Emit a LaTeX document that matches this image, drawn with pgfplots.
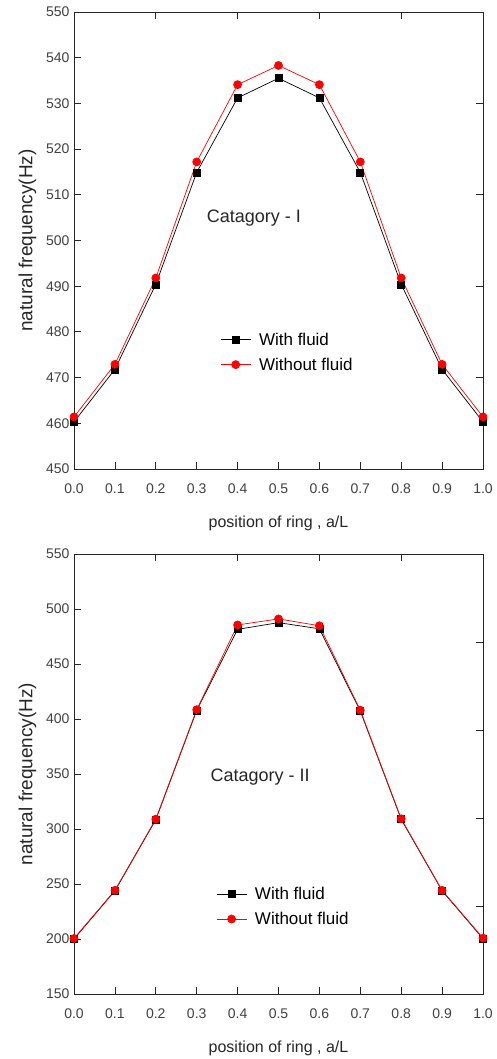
\documentclass[border=0pt]{standalone}
\usepackage{fontspec}
\setmainfont{Liberation Sans}
\usepackage{pgfplots}
\pgfplotsset{compat=1.18}
\begin{document}
\begin{tikzpicture}
\useasboundingbox (0pt,0pt) rectangle (497pt,1059pt);
\pgfplotsset{
  base/.style={scale only axis, width=409pt, xmin=0, xmax=1, anchor=south west,
    tick align=inside, major tick length=7pt,
    axis line style={black!85, line width=0.8pt},
    every tick/.style={black!85, line width=0.8pt},
    tick label style={font=\fontsize{14}{16}\selectfont, text=black!75},
    /pgf/number format/assume math mode=true},
  main/.style={base, xtick={0,0.1,0.2,0.3,0.4,0.5,0.6,0.7,0.8,0.9,1},
    xticklabels={0.0,0.1,0.2,0.3,0.4,0.5,0.6,0.7,0.8,0.9,1.0},
    xtick pos=left, ytick pos=left,
    xticklabel style={yshift=-11pt}, yticklabel style={xshift=-1pt},
    xlabel={position of ring , a/L}, ylabel={natural frequency(Hz)},
    xlabel style={font=\fontsize{16}{18}\selectfont, text=black!85, yshift=-16pt},
    ylabel style={font=\fontsize{19}{21}\selectfont, text=black!85, yshift=3pt},
    legend cell align=left,
    legend style={draw=none, fill=none, font=\fontsize{17}{19}\selectfont, row sep=7pt},
    legend image code/.code={\draw[mark repeat=2,mark phase=2] plot coordinates {(0pt,0pt) (15pt,0pt) (30pt,0pt)};}},
  over/.style={base, xtick pos=right, ytick pos=right, xticklabels={}, yticklabels={},
    axis line style={draw=none}},
  wf/.style={black, line width=0.7pt, mark=square*, mark size=3.5pt, mark options={solid}},
  wo/.style={red, line width=0.7pt, mark=*, mark size=4pt, mark options={solid}}
}
% ---------- top panel ----------
\begin{axis}[main, at={(74pt,590pt)}, height=457pt, ymin=450, ymax=550,
  ytick={450,460,470,480,490,500,510,520,530,540,550},
  legend style={at={(0.35,0.307)}, anchor=north west}]
\addplot[wf] coordinates {(0.0,460.3) (0.1,471.8) (0.2,490.4) (0.3,514.9) (0.4,531.2) (0.5,535.5) (0.6,531.2) (0.7,514.9) (0.8,490.4) (0.9,471.8) (1.0,460.3)};
\addlegendentry{\hspace{6pt}With fluid}
\addplot[wo] coordinates {(0.0,461.4) (0.1,472.9) (0.2,491.8) (0.3,517.2) (0.4,534.1) (0.5,538.3) (0.6,534.1) (0.7,517.2) (0.8,491.8) (0.9,472.9) (1.0,461.4)};
\addlegendentry{\hspace{6pt}Without fluid}
\node[font=\fontsize{18}{20}\selectfont, text=black!85] at (axis cs:0.44,505.0) {Catagory - I};
\end{axis}
\begin{axis}[over, at={(74pt,590pt)}, height=457pt, ymin=450, ymax=550,
  xtick={0.2,0.4,0.6,0.8}, ytick={470,490,510,530}]
\end{axis}
% ---------- bottom panel ----------
\begin{axis}[main, at={(74pt,65pt)}, height=440pt, ymin=150, ymax=550,
  ytick={150,200,250,300,350,400,450,500,550},
  legend style={at={(0.34,0.252)}, anchor=north west}]
\addplot[wf] coordinates {(0.0,200.0) (0.1,243.8) (0.2,308.5) (0.3,407.8) (0.4,481.5) (0.5,487.6) (0.6,482.0) (0.7,407.2) (0.8,308.8) (0.9,243.8) (1.0,200.3)};
\addlegendentry{\hspace{6pt}With fluid}
\addplot[wo] coordinates {(0.0,200.5) (0.1,244.2) (0.2,309.0) (0.3,408.5) (0.4,485.5) (0.5,491.0) (0.6,484.8) (0.7,408.0) (0.8,309.3) (0.9,244.2) (1.0,200.8)};
\addlegendentry{\hspace{6pt}Without fluid}
\node[font=\fontsize{18}{20}\selectfont, text=black!85] at (axis cs:0.455,347.0) {Catagory - II};
\end{axis}
\begin{axis}[over, at={(74pt,65pt)}, height=440pt, ymin=150, ymax=550,
  xtick={0.2,0.4,0.6,0.8}, ytick={230,310,390,470}]
\end{axis}
\end{tikzpicture}
\end{document}
